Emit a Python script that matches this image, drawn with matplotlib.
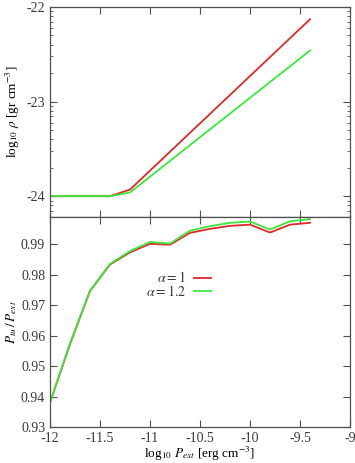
import numpy as np
import matplotlib
matplotlib.use("Agg")
import matplotlib.pyplot as plt
from matplotlib.ticker import FixedLocator, FuncFormatter, LogLocator, NullFormatter

# log10 of external pressure (shared x)
log_pext = [-12.0, -11.8, -11.6, -11.4, -11.2, -11.0, -10.8, -10.6, -10.4,
            -10.2, -10.0, -9.8, -9.6, -9.4]

# log10 rho
logrho_a1 = [-24.0, -24.0, -24.0, -24.0, -23.93, -23.73, -23.53, -23.33, -23.13,
             -22.93, -22.73, -22.53, -22.33, -22.13]
logrho_a12 = [-24.0, -24.0, -24.0, -24.0, -23.96, -23.793, -23.627, -23.46, -23.293,
              -23.127, -22.96, -22.793, -22.627, -22.46]

# P_tu / P_ext, bottom panel
ratio_a1 = [0.9380, 0.9572, 0.9746, 0.9833, 0.9873, 0.9901, 0.9898, 0.9937, 0.9950,
            0.9960, 0.9964, 0.9938, 0.9964, 0.9970]
ratio_a12 = [0.9380, 0.9574, 0.9747, 0.9835, 0.9877, 0.9907, 0.9902, 0.9944, 0.9959,
             0.9970, 0.9974, 0.9948, 0.9975, 0.9982]

labels = [r"$\alpha = 1$", r"$\alpha = 1.2$"]
red = "#e02828"
green = "#3ae83a"
grey = "#505050"

plt.rcParams["font.family"] = "Liberation Serif"
plt.rcParams["mathtext.fontset"] = "stix"
plt.rcParams["font.size"] = 10
plt.rcParams["text.color"] = "#3a3a3a"
plt.rcParams["axes.edgecolor"] = grey
plt.rcParams["xtick.color"] = grey
plt.rcParams["ytick.color"] = grey
plt.rcParams["xtick.labelcolor"] = "#3a3a3a"
plt.rcParams["ytick.labelcolor"] = "#3a3a3a"

fig = plt.figure(figsize=(3.55, 4.63), dpi=100)
ax1 = fig.add_axes([50 / 355, 1 - 217 / 463, 300 / 355, 210 / 463])
ax2 = fig.add_axes([50 / 355, 1 - 427 / 463, 300 / 355, 210 / 463])

x = np.array(log_pext)

# top panel: rho on log axis, labelled by exponent
ax1.plot(x, 10 ** np.array(logrho_a1), color=red, lw=1.3)
ax1.plot(x, 10 ** np.array(logrho_a12), color=green, lw=1.3)
ax1.set_yscale("log")
ax1.set_ylim(10 ** -24.22, 1e-22)
ax1.yaxis.set_major_locator(FixedLocator([1e-24, 1e-23, 1e-22]))
ax1.yaxis.set_major_formatter(FuncFormatter(lambda v, p: "%d" % round(np.log10(v))))
ax1.yaxis.set_minor_locator(LogLocator(base=10, subs=np.arange(2, 10), numticks=20))
ax1.yaxis.set_minor_formatter(NullFormatter())
ax1.set_xlim(-12, -9)
ax1.set_xticks(np.arange(-12, -8.9, 0.5))
ax1.tick_params(labelbottom=False)
ax1.set_ylabel(r"log$_{10}$ $\rho$ [gr cm$^{-3}$]", fontsize=9.5, labelpad=3)

# bottom panel
ax2.plot(x, ratio_a1, color=red, lw=1.3, label=labels[0])
ax2.plot(x, ratio_a12, color=green, lw=1.3, label=labels[1])
ax2.set_xlim(-12, -9)
ax2.set_ylim(0.93, 0.9989)
ax2.set_xticks(np.arange(-12, -8.9, 0.5))
ax2.set_xticklabels(["-12", "-11.5", "-11", "-10.5", "-10", "-9.5", "-9"])
ax2.set_yticks(np.arange(0.93, 0.995, 0.01))
ax2.set_yticklabels(["%.2f" % v for v in np.arange(0.93, 0.995, 0.01)])
ax2.set_xlabel(r"log$_{10}$ $P_{ext}$ [erg cm$^{-3}$]", fontsize=9.5, labelpad=0)
ax2.set_ylabel(r"$P_{tu}\,/\,P_{ext}$", fontsize=9.5, labelpad=1)
ax2.legend(loc="upper right", bbox_to_anchor=(0.555, 0.772), frameon=False,
           markerfirst=False, handlelength=1.2, handletextpad=0.6,
           labelspacing=-0.1, fontsize=10, borderaxespad=0)

for ax in (ax1, ax2):
    ax.tick_params(which="both", direction="in", top=True, right=True)
    ax.tick_params(which="major", length=5, width=0.8, pad=3.5)
    ax.tick_params(which="minor", length=2.5, width=0.6)
    for s in ax.spines.values():
        s.set_linewidth(0.9)

fig.savefig("out.png", dpi=100)
